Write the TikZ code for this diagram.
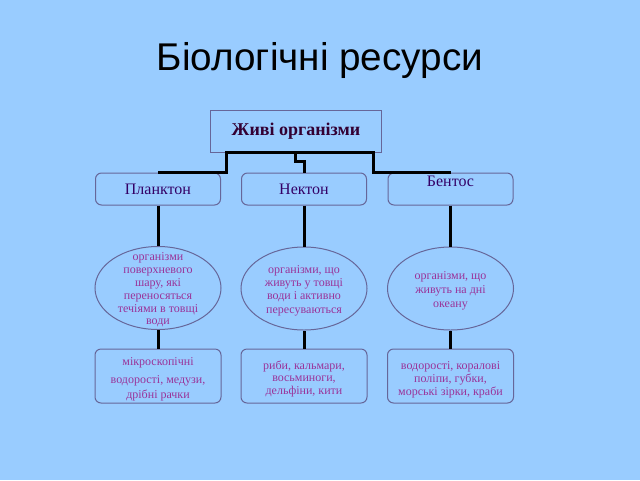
\documentclass[tikz,border=0pt]{standalone}
\usepackage{fontspec}
\setmainfont{Liberation Serif}
\newfontfamily\titlefont{Liberation Sans}
\usetikzlibrary{shapes.geometric}
\definecolor{bg}{RGB}{153,204,255}
\definecolor{edgec}{RGB}{102,102,153}
\definecolor{dk}{RGB}{51,0,51}
\definecolor{lv}{RGB}{51,0,102}
\definecolor{mg}{RGB}{153,51,153}
\newcommand\ztext[3]{\makebox[0pt]{\smash{\raisebox{#1}{\fontsize{9}{#2}\selectfont\begin{tabular}{@{}c@{}}#3\end{tabular}}}}}
\tikzset{
  topbox/.style={draw=edgec, line width=0.75pt, minimum width=128.25pt, minimum height=31.5pt, inner sep=0pt, text=dk, font=\fontsize{13.5}{16}\selectfont\bfseries},
  lvbox/.style={draw=edgec, line width=0.75pt, rounded corners=4.5pt, minimum width=93.75pt, minimum height=24pt, inner sep=0pt, text=lv, font=\fontsize{12}{14}\selectfont},
  ell/.style={ellipse, draw=edgec, line width=0.75pt, minimum width=94.5pt, minimum height=62.25pt, inner sep=0pt, text=mg},
  botbox/.style={draw=edgec, line width=0.75pt, rounded corners=4.5pt, minimum width=94.5pt, minimum height=40.5pt, inner sep=0pt, text=mg},
  conn/.style={draw=black, line width=2.25pt},
  titlestyle/.style={font=\titlefont\fontsize{29}{34}\selectfont, text=black}
}
\begin{document}
\begin{tikzpicture}[x=0.75pt, y=-0.75pt]
\fill[bg] (0,0) rectangle (640,480);
\useasboundingbox (0,0) rectangle (640,480);
\node[titlestyle] (title) at (320,60) {Біологічні ресурси};
\node[topbox] (top) at (296,131) {Живі організми};
\node[lvbox] (pl) at (158,189) {Планктон};
\node[lvbox] (nk) at (304,189) {Нектон};
\node[lvbox] (bn) at (450.5,189) {\raisebox{2pt}[0pt][0pt]{Бентос}};
\node[ell] (pe) at (158,288) {\ztext{-4pt}{9.6pt}{організми\\поверхневого\\шару, які\\переносяться\\течіями в товщі\\води}};
\node[ell] (ne) at (304,288.5) {\ztext{-3.8pt}{10pt}{організми, що\\живуть у товщі\\води і активно\\пересуваються}};
\node[ell] (be) at (450.5,288.5) {\ztext{-3.8pt}{10.5pt}{організми, що\\живуть на дні\\океану}};
\node[botbox] (pb) at (158,376) {\ztext{-4.3pt}{11.25pt}{мікроскопічні\\[2.25pt]водорості, медузи,\\дрібні рачки}};
\node[botbox] (nb) at (304,376) {\ztext{-4.8pt}{9.2pt}{риби, кальмари,\\восьминоги,\\дельфіни, кити}};
\node[botbox] (bb) at (450.5,376) {\ztext{-5.2pt}{9.5pt}{водорості, коралові\\поліпи, губки,\\морські зірки, краби}};
\coordinate (jl) at (226.5,152);
\coordinate (jr) at (373,152);
\coordinate (jm) at (295,152);
\draw[conn] (pl.north) -| (jl) -- (jr) |- (bn.north);
\draw[conn] (jm) -- ++(0,9) -| (nk.north);
\draw[conn] (pl.south) -- (pe.north);
\draw[conn] (nk.south) -- (ne.north);
\draw[conn] (bn.south) -- (be.north);
\draw[conn] (pe.south) -- (pb.north);
\draw[conn] (ne.south) -- (nb.north);
\draw[conn] (be.south) -- (bb.north);
\end{tikzpicture}
\end{document}
